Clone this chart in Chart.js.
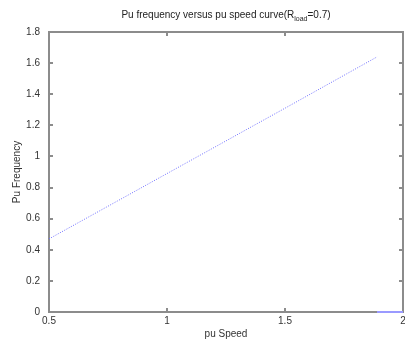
<!DOCTYPE html>
<html>
<head>
<meta charset="utf-8">
<script src="https://cdn.jsdelivr.net/npm/chart.js@4"></script>
<style>
  html, body { margin: 0; padding: 0; background: #fff; }
  #wrap { width: 405px; height: 340px; }
</style>
</head>
<body>
<div id="wrap"><canvas id="lineChart" width="405" height="340"></canvas></div>
<script>
// values
let speed = [0.5, 1.0, 1.5, 1.89];
let freq = [0.47, 0.89, 1.31, 1.64];
let tailSpeed = [1.89, 2.0];
let tailFreq = [0, 0];
let xTicks = [0.5, 1, 1.5, 2];
let yTicks = [0, 0.2, 0.4, 0.6, 0.8, 1, 1.2, 1.4, 1.6, 1.8];

let titleMain = "Pu frequency versus pu speed curve(R";
let titleSub = "load";
let titleEnd = "=0.7)";

const FONT = "'Liberation Sans', Arial, sans-serif";
const AXIS = "#8c8c8c";
const LINE = "#6f6fff";

// box around the plot with inward ticks (under the data), and the title with its subscript
const framePlugin = {
    id: 'frame',
    beforeDatasetsDraw(chart) {
        let ctx = chart.ctx;
        let a = chart.chartArea;
        let xs = chart.scales.x, ys = chart.scales.y;
        let L = Math.round(a.left), R = Math.round(a.right);
        let T = Math.round(a.top), B = Math.round(a.bottom);
        ctx.save();
        ctx.fillStyle = AXIS;
        ctx.fillRect(L - 1, T - 1, R - L + 2, 2);
        ctx.fillRect(L - 1, B - 1, R - L + 2, 2);
        ctx.fillRect(L - 1, T - 1, 2, B - T + 2);
        ctx.fillRect(R - 1, T - 1, 2, B - T + 2);
        xTicks.forEach(function(v) {
            let px = Math.round(xs.getPixelForValue(v));
            ctx.fillRect(px - 1, B - 4, 2, 4);
            ctx.fillRect(px - 1, T, 2, 4);
        });
        yTicks.forEach(function(v) {
            let py = Math.round(ys.getPixelForValue(v));
            ctx.fillRect(L, py - 1, 4, 2);
            ctx.fillRect(R - 4, py - 1, 4, 2);
        });
        ctx.restore();
    },
    afterDraw(chart) {
        let ctx = chart.ctx;
        let a = chart.chartArea;
        ctx.save();
        ctx.fillStyle = "#222";
        ctx.textBaseline = "middle";
        ctx.textAlign = "left";
        ctx.font = "10px " + FONT;
        let w1 = ctx.measureText(titleMain).width;
        ctx.font = "7px " + FONT;
        let w2 = ctx.measureText(titleSub).width;
        ctx.font = "10px " + FONT;
        let w3 = ctx.measureText(titleEnd).width;
        let x0 = (a.left + a.right) / 2 - (w1 + w2 + w3) / 2;
        let ty = 15;
        ctx.fillText(titleMain, x0, ty);
        ctx.font = "7px " + FONT;
        ctx.fillText(titleSub, x0 + w1, ty + 4);
        ctx.font = "10px " + FONT;
        ctx.fillText(titleEnd, x0 + w1 + w2, ty);
        ctx.restore();
    }
};

new Chart(document.getElementById("lineChart"), {
    type: 'line',
    data: {
        datasets: [
            {
                label: "Pu frequency",
                data: speed.map((s, i) => ({ x: s, y: freq[i] })),
                borderColor: LINE,
                borderWidth: 1,
                borderDash: [1, 1.5],
                pointRadius: 0,
                fill: false,
                tension: 0
            },
            {
                label: "tail",
                data: tailSpeed.map((s, i) => ({ x: s, y: tailFreq[i] })),
                borderColor: "#9a9aff",
                borderWidth: 2,
                pointRadius: 0,
                fill: false,
                tension: 0,
                clip: false
            }
        ]
    },
    options: {
        responsive: false,
        animation: false,
        layout: { padding: { top: 32, right: 2, left: 0, bottom: 0 } },
        plugins: {
            legend: { display: false },
            title: { display: false },
            tooltip: { enabled: false }
        },
        scales: {
            x: {
                type: 'linear',
                min: 0.5,
                max: 2,
                afterBuildTicks: function(scale) { scale.ticks = xTicks.map(v => ({ value: v })); },
                afterFit: function(scale) {
                    scale.height = 28;
                    scale.paddingLeft = 0;
                    scale.paddingRight = 0;
                },
                grid: { display: false, drawTicks: false },
                border: { display: false },
                ticks: {
                    padding: 3,
                    color: "#333",
                    font: { family: FONT, size: 10 },
                    maxRotation: 0,
                    callback: v => String(v)
                },
                title: { display: true, text: "pu Speed", color: "#333", font: { family: FONT, size: 10 }, padding: { top: 0, bottom: 0 } }
            },
            y: {
                type: 'linear',
                min: 0,
                max: 1.8,
                afterBuildTicks: function(scale) { scale.ticks = yTicks.map(v => ({ value: v })); },
                afterFit: function(scale) { scale.width = 49; },
                grid: { display: false, drawTicks: false },
                border: { display: false },
                ticks: {
                    padding: 9,
                    color: "#333",
                    font: { family: FONT, size: 10 },
                    callback: v => String(Math.round(v * 10) / 10)
                },
                title: { display: true, text: "Pu Frequency", color: "#333", font: { family: FONT, size: 10 }, padding: { top: 11, bottom: 0 } }
            }
        }
    },
    plugins: [framePlugin]
});
</script>
</body>
</html>
